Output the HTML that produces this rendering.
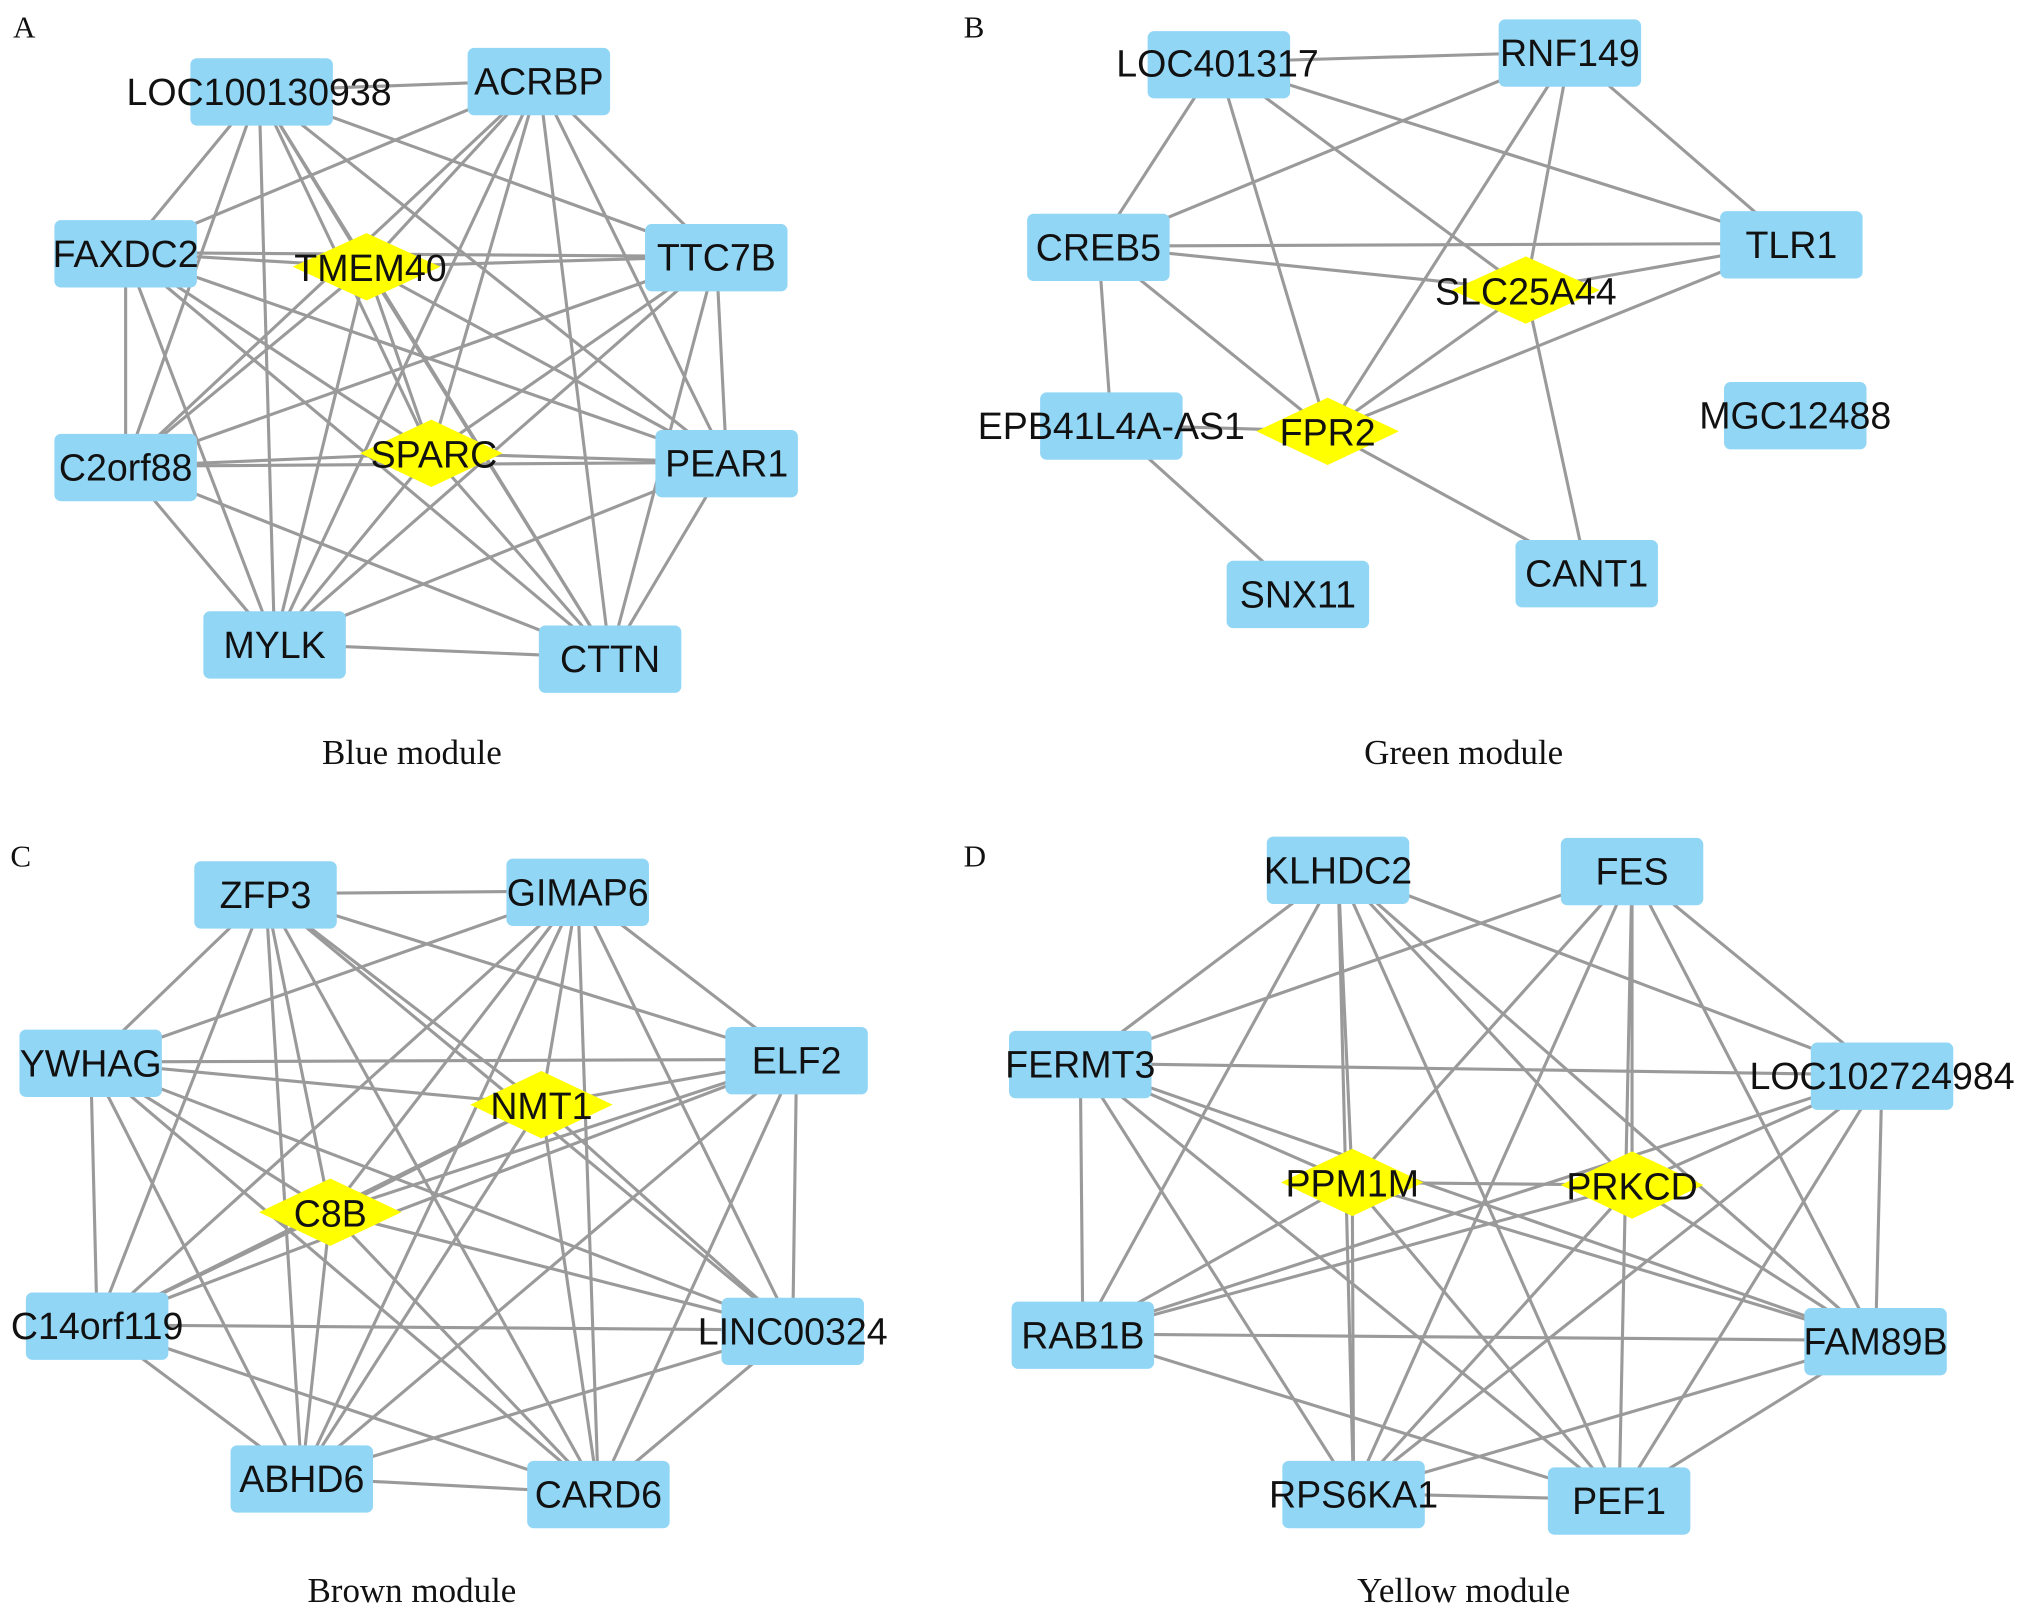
<!DOCTYPE html>
<html><head><meta charset="utf-8"><style>
html,body{margin:0;padding:0;background:#fff}
svg{display:block}
.b{fill:#92d6f6}
.d{fill:#ffff00}
.t{font-family:"Liberation Sans",Arial,sans-serif;font-size:29px;fill:#111;text-anchor:middle;dominant-baseline:central}
.s{font-family:"Liberation Serif",serif;fill:#111}
line{stroke:#9a9a9a;stroke-width:2.4}
</style></head><body>
<svg id="g" width="2031" height="1615" viewBox="0 0 1568 1247" preserveAspectRatio="none" xmlns="http://www.w3.org/2000/svg">
<g id="edges"></g>
<g id="nodes">
<rect class="b" x="147" y="45" width="110" height="52" rx="5"/>
<rect class="b" x="361" y="37" width="110" height="52" rx="5"/>
<rect class="b" x="42" y="170" width="110" height="52" rx="5"/>
<polygon class="d" points="283,180 340,206 283,232 226,206"/>
<rect class="b" x="498" y="173" width="110" height="52" rx="5"/>
<rect class="b" x="42" y="335" width="110" height="52" rx="5"/>
<polygon class="d" points="333,324 388,350 333,376 278,350"/>
<rect class="b" x="506" y="332" width="110" height="52" rx="5"/>
<rect class="b" x="157" y="472" width="110" height="52" rx="5"/>
<rect class="b" x="416" y="483" width="110" height="52" rx="5"/>
<text class="t" x="200" y="71">LOC100130938</text>
<text class="t" x="416" y="63">ACRBP</text>
<text class="t" x="97" y="196">FAXDC2</text>
<text class="t" x="286" y="207">TMEM40</text>
<text class="t" x="553" y="199">TTC7B</text>
<text class="t" x="97" y="361">C2orf88</text>
<text class="t" x="335" y="351">SPARC</text>
<text class="t" x="561" y="358">PEAR1</text>
<text class="t" x="212" y="498">MYLK</text>
<text class="t" x="471" y="509">CTTN</text>
<rect class="b" x="886" y="24" width="110" height="52" rx="5"/>
<rect class="b" x="1157" y="15" width="110" height="52" rx="5"/>
<rect class="b" x="793" y="165" width="110" height="52" rx="5"/>
<rect class="b" x="1328" y="163" width="110" height="52" rx="5"/>
<polygon class="d" points="1178,198 1235,224 1178,250 1121,224"/>
<rect class="b" x="803" y="303" width="110" height="52" rx="5"/>
<polygon class="d" points="1025,307 1080,333 1025,359 970,333"/>
<rect class="b" x="1331" y="295" width="110" height="52" rx="5"/>
<rect class="b" x="947" y="433" width="110" height="52" rx="5"/>
<rect class="b" x="1170" y="417" width="110" height="52" rx="5"/>
<text class="t" x="940" y="49">LOC401317</text>
<text class="t" x="1212" y="41">RNF149</text>
<text class="t" x="848" y="191">CREB5</text>
<text class="t" x="1383" y="189">TLR1</text>
<text class="t" x="1178" y="225">SLC25A44</text>
<text class="t" x="858" y="329">EPB41L4A-AS1</text>
<text class="t" x="1025" y="334">FPR2</text>
<text class="t" x="1386" y="321">MGC12488</text>
<text class="t" x="1002" y="459">SNX11</text>
<text class="t" x="1225" y="443">CANT1</text>
<rect class="b" x="150" y="665" width="110" height="52" rx="5"/>
<rect class="b" x="391" y="663" width="110" height="52" rx="5"/>
<rect class="b" x="15" y="795" width="110" height="52" rx="5"/>
<rect class="b" x="560" y="793" width="110" height="52" rx="5"/>
<polygon class="d" points="418,827 473,853 418,879 363,853"/>
<polygon class="d" points="255,910 310,936 255,962 200,936"/>
<rect class="b" x="20" y="998" width="110" height="52" rx="5"/>
<rect class="b" x="557" y="1002" width="110" height="52" rx="5"/>
<rect class="b" x="178" y="1116" width="110" height="52" rx="5"/>
<rect class="b" x="407" y="1128" width="110" height="52" rx="5"/>
<text class="t" x="205" y="691">ZFP3</text>
<text class="t" x="446" y="689">GIMAP6</text>
<text class="t" x="70" y="821">YWHAG</text>
<text class="t" x="615" y="819">ELF2</text>
<text class="t" x="418" y="854">NMT1</text>
<text class="t" x="255" y="937">C8B</text>
<text class="t" x="75" y="1024">C14orf119</text>
<text class="t" x="612" y="1028">LINC00324</text>
<text class="t" x="233" y="1142">ABHD6</text>
<text class="t" x="462" y="1154">CARD6</text>
<rect class="b" x="978" y="646" width="110" height="52" rx="5"/>
<rect class="b" x="1205" y="647" width="110" height="52" rx="5"/>
<rect class="b" x="779" y="796" width="110" height="52" rx="5"/>
<rect class="b" x="1398" y="805" width="110" height="52" rx="5"/>
<polygon class="d" points="1044,887 1099,913 1044,939 989,913"/>
<polygon class="d" points="1260,889 1315,915 1260,941 1205,915"/>
<rect class="b" x="781" y="1005" width="110" height="52" rx="5"/>
<rect class="b" x="1393" y="1010" width="110" height="52" rx="5"/>
<rect class="b" x="990" y="1128" width="110" height="52" rx="5"/>
<rect class="b" x="1195" y="1133" width="110" height="52" rx="5"/>
<text class="t" x="1033" y="672">KLHDC2</text>
<text class="t" x="1260" y="673">FES</text>
<text class="t" x="834" y="822">FERMT3</text>
<text class="t" x="1453" y="831">LOC102724984</text>
<text class="t" x="1044" y="914">PPM1M</text>
<text class="t" x="1260" y="916">PRKCD</text>
<text class="t" x="836" y="1031">RAB1B</text>
<text class="t" x="1448" y="1036">FAM89B</text>
<text class="t" x="1045" y="1154">RPS6KA1</text>
<text class="t" x="1250" y="1159">PEF1</text>
</g>
<text class="s" x="10" y="29" font-size="24">A</text>
<text class="s" x="744" y="29" font-size="24">B</text>
<text class="s" x="8" y="669" font-size="24">C</text>
<text class="s" x="744" y="669" font-size="24">D</text>
<text class="s" x="318" y="590" font-size="27" text-anchor="middle">Blue module</text>
<text class="s" x="1130" y="590" font-size="27" text-anchor="middle">Green module</text>
<text class="s" x="318" y="1237" font-size="27" text-anchor="middle">Brown module</text>
<text class="s" x="1130" y="1237" font-size="27" text-anchor="middle">Yellow module</text>
</svg>
<script>
var P={
A:[[200,70],[416,62],[97,195],[283,206],[553,198],[97,360],[333,350],[561,357],[212,497],[471,508]],
C:[[205,690],[446,688],[70,820],[615,818],[418,853],[255,936],[75,1023],[612,1027],[233,1141],[462,1153]],
D:[[1033,671],[1260,672],[834,821],[1453,830],[1044,913],[1260,915],[836,1030],[1448,1035],[1045,1153],[1250,1158]]};
var B=[[940,48],[1212,40],[848,190],[1383,188],[1178,224],[858,328],[1025,333],[1386,320],[1002,458],[1225,442]];
var g=document.getElementById('edges'),ns='http://www.w3.org/2000/svg';
function L(a,b){var l=document.createElementNS(ns,'line');l.setAttribute('x1',a[0]);l.setAttribute('y1',a[1]);l.setAttribute('x2',b[0]);l.setAttribute('y2',b[1]);g.appendChild(l);}
for(var k in P){var p=P[k];for(var i=0;i<10;i++)for(var j=i+1;j<10;j++){if(k=='D'&&(i+j)%7==0&&i>0)continue;if(k=='D'&&i==0&&j==1)continue;L(p[i],p[j]);}}
[[0,1],[0,2],[0,6],[0,4],[0,3],[1,2],[1,3],[1,4],[1,6],[2,3],[2,4],[2,6],[2,5],[3,4],[3,6],[4,6],[4,9],[6,9],[5,8],[5,6]].forEach(function(e){L(B[e[0]],B[e[1]]);});
</script>
</body></html>
